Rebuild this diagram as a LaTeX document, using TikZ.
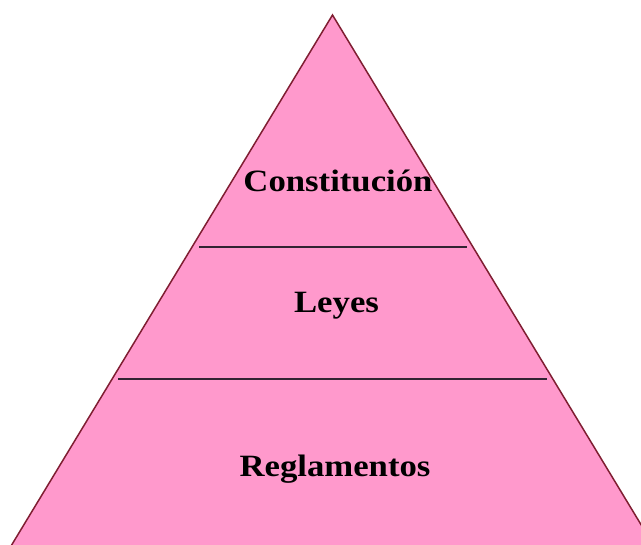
\documentclass[tikz,border=0pt]{standalone}
\usepackage{fontspec}
\setmainfont{Liberation Serif}
\definecolor{pyrfill}{RGB}{255,153,204}
\definecolor{pyredge}{RGB}{128,30,50}
\definecolor{pyrline}{RGB}{50,36,50}
\begin{document}
\begin{tikzpicture}[x=1pt,y=-1pt,
  lvl/.style={anchor=base,inner sep=0pt,font=\fontsize{31}{31}\selectfont\bfseries},
  sep/.style={draw=pyrline,line width=2pt}]
\useasboundingbox (0,0) rectangle (641,545);
\clip (0,0) rectangle (641,545);
\coordinate (apex) at (332.5,15);
\coordinate (bl) at (-3.5,570);
\coordinate (br) at (668.5,570);
\path[fill=pyrfill,draw=pyredge,line width=1.5pt,line join=miter] (apex) -- (br) -- (bl) -- cycle;
\coordinate (s1l) at (199,247);
\coordinate (s1r) at (467,247);
\coordinate (s2l) at (118,379);
\coordinate (s2r) at (547,379);
\draw[sep] (s1l) -- (s1r);
\draw[sep] (s2l) -- (s2r);
\node[lvl] (const) at (338,191.7) {\scalebox{1.12}[1]{Constitución}};
\node[lvl] (leyes) at (336.5,313) {\scalebox{1.12}[1]{Leyes}};
\node[lvl] (regl) at (335,476.7) {\scalebox{1.12}[1]{Reglamentos}};
\end{tikzpicture}
\end{document}
